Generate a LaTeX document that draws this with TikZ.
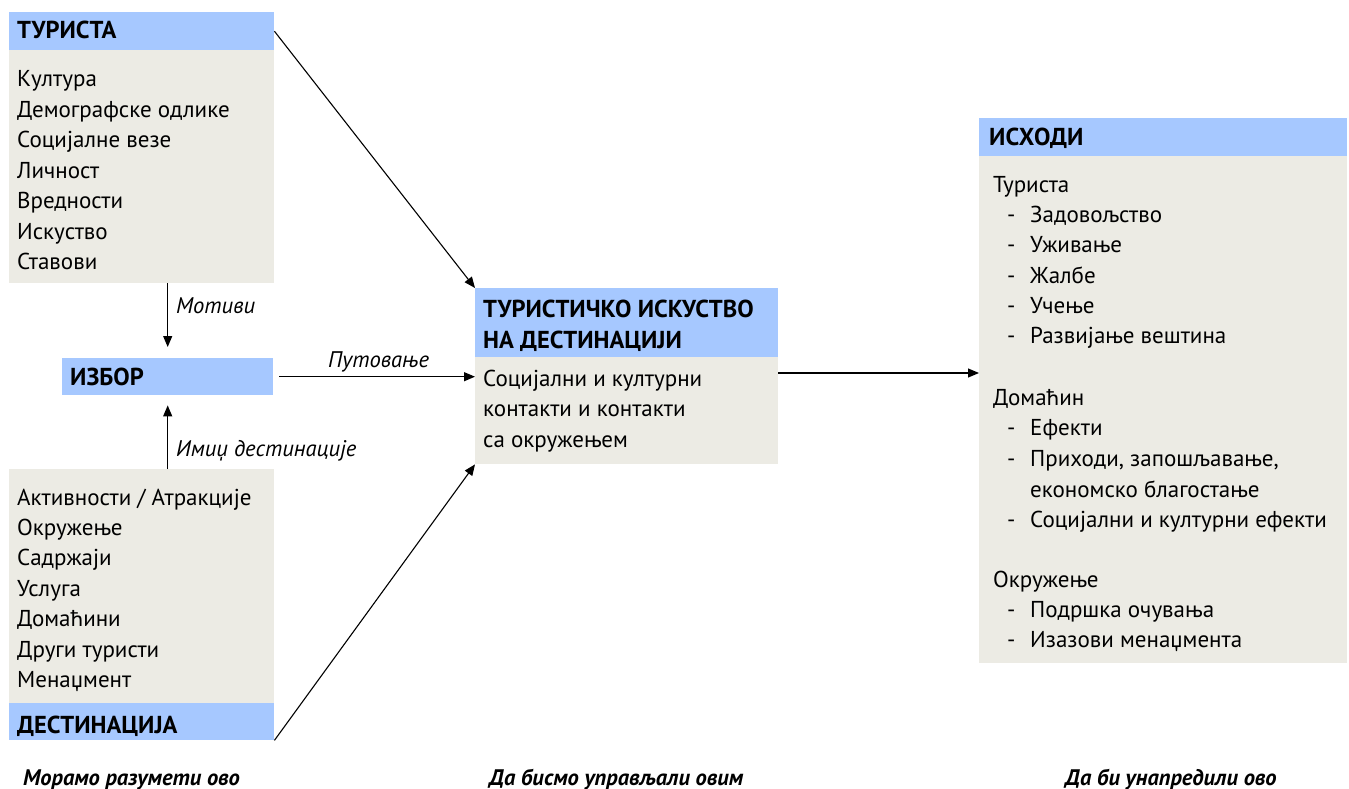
\documentclass[tikz,border=0pt]{standalone}
\usepackage{fontspec}
\setmainfont{PT Sans}
\usetikzlibrary{arrows.meta}
\definecolor{hdr}{HTML}{A6C8FF}
\definecolor{bdy}{HTML}{ECEBE4}
\begin{document}
\begin{tikzpicture}[x=1pt,y=-1pt,
  hbox/.style={fill=hdr,draw=none,inner sep=0,anchor=north west},
  bbox/.style={fill=bdy,draw=none,inner sep=0,anchor=north west},
  txt/.style={font=\fontsize{23}{27}\selectfont,inner sep=0,anchor=base west},
  htxt/.style={font=\fontsize{24.5}{29}\selectfont\bfseries,inner sep=0,anchor=base west},
  ltxt/.style={font=\fontsize{22.6}{27}\selectfont\itshape,inner sep=0,anchor=base west},
  ftxt/.style={font=\fontsize{22.5}{27}\selectfont\bfseries\itshape,inner sep=0,anchor=base west},
  arr/.style={line width=1.1pt,-{Triangle[length=11pt,width=9pt]}}]
\useasboundingbox (0,0) rectangle (1349,789);
% Tourist
\node[hbox,minimum width=265pt,minimum height=38pt] (turH) at (9,12) {};
\node[bbox,minimum width=265pt,minimum height=233pt] (turB) at (9,50) {};
\node[htxt] (turT) at (17,39) {ТУРИСТА};
\foreach \t [count=\i from 0] in {Култура,Демографске одлике,Социјалне везе,Личност,Вредности,Искуство,Ставови}
  \node[txt] (tur\i) at (17,87+30.4*\i) {\t};
% Choice
\node[hbox,minimum width=211pt,minimum height=37pt] (izbor) at (62,358) {};
\node[htxt] (izborT) at (70,385) {ИЗБОР};
% Destination
\node[bbox,minimum width=265pt,minimum height=234pt] (destB) at (9,469) {};
\node[hbox,minimum width=265pt,minimum height=37pt] (destH) at (9,703) {};
\foreach \t [count=\i from 0] in {Активности / Атракције,Окружење,Садржаји,Услуга,Домаћини,Други туристи,Менаџмент}
  \node[txt] (dst\i) at (17,505+30.4*\i) {\t};
\node[htxt] (destT) at (17,733) {ДЕСТИНАЦИЈА};
% Centre
\node[hbox,minimum width=303pt,minimum height=69pt] (cenH) at (475,288) {};
\node[bbox,minimum width=303pt,minimum height=107pt] (cenB) at (475,357) {};
\node[htxt] (cenT1) at (483,317) {ТУРИСТИЧКО ИСКУСТВО};
\node[htxt] (cenT2) at (483,348) {НА ДЕСТИНАЦИЈИ};
\node[txt] (cen1) at (483,386) {Социјални и културни};
\node[txt] (cen2) at (483,416.5) {контакти и контакти};
\node[txt] (cen3) at (483,447) {са окружењем};
% Outcomes
\node[hbox,minimum width=368pt,minimum height=38pt] (isH) at (979,118) {};
\node[bbox,minimum width=368pt,minimum height=507pt] (isB) at (979,156) {};
\node[htxt] (isT) at (989,146) {ИСХОДИ};
\node[txt] (g1) at (993,192) {Туриста};
\node[txt] (g2) at (993,405) {Домаћин};
\node[txt] (g3) at (993,587) {Окружење};
\foreach \t/\y [count=\i] in {Задовољство/222,Уживање/252.5,Жалбе/283,Учење/313,Развијање вештина/343.5,Ефекти/435,{Приходи, запошљавање,}/466,Социјални и културни ефекти/527,Подршка очувања/617,Изазови менаџмента/647.5}{
  \node[txt] (dash\i) at (1007,\y) {-};
  \node[txt] (it\i) at (1030,\y) {\t};
}
\node[txt] (it2b) at (1030,497) {економско благостање};
% Footer
\node[ftxt] (f1) at (23,785) {Морамо разумети ово};
\node[ftxt] (f2) at (489,785) {Да бисмо управљали овим};
\node[ftxt] (f3) at (1065,785) {Да би унапредили ово};
% Connectors
\coordinate (mid) at (0,373);
\draw[arr] (turH.east) -- (cenH.north west);
\draw[arr] (destH.south east) -- (cenB.south west);
\draw[arr] (turB.south -| izbor.north) -- ([yshift=11pt]izbor.north);
\node[ltxt] (mot) at (176,313) {Мотиви};
\draw[arr] (destB.north -| izbor.south) -- ([yshift=-10pt]izbor.south);
\node[ltxt] (imidz) at (176,456) {Имиџ дестинације};
\draw[arr] ([xshift=6pt]izbor.east) -- (izbor.east -| cenB.west);
\node[ltxt] (put) at (328,367) {Путовање};
\draw[arr] (mid -| cenB.east) -- (mid -| isB.west);
\end{tikzpicture}
\end{document}
